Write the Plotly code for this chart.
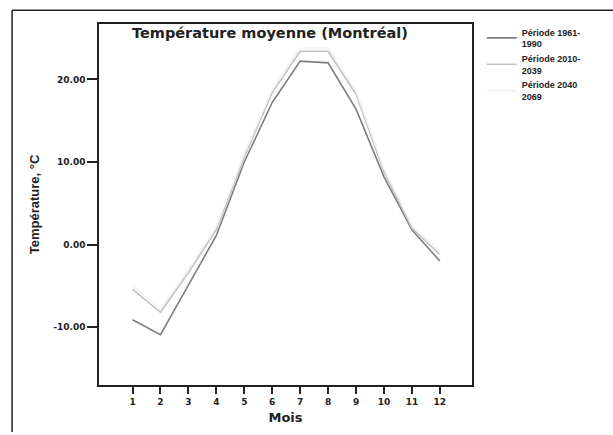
import plotly.graph_objects as go

# Mean monthly temperature, Montréal
mois = [1, 2, 3, 4, 5, 6, 7, 8, 9, 10, 11, 12]
periode_1961_1990 = [-9.1, -10.9, -4.9, 1.1, 10.0, 17.2, 22.2, 22.0, 16.4, 8.2, 1.8, -2.0]
periode_2010_2039 = [-5.4, -8.2, -3.4, 1.8, 10.6, 18.4, 23.4, 23.4, 18.2, 8.8, 2.0, -1.2]
periode_2040_2069 = [-5.0, -7.8, -3.0, 2.2, 11.0, 18.8, 23.8, 23.8, 18.6, 9.2, 2.4, -0.8]

series = [
    ("Période 1961-<br>1990", periode_1961_1990, "#7e7e7e"),
    ("Période 2010-<br>2039", periode_2010_2039, "#c2c2c2"),
    ("Période 2040<br>2069", periode_2040_2069, "#f3f3f3"),
]

y_ticks = [-10, 0, 10, 20]
y_tick_text = ["-10.00", "0.00", "10.00", "20.00"]

sans = "Liberation Sans, Arial, sans-serif"
wide = "DejaVu Sans, Verdana, sans-serif"

fig = go.Figure()
for name, values, color in series:
    fig.add_trace(go.Scatter(
        x=mois, y=values, mode="lines", name=name,
        line=dict(color=color, width=1.6),
    ))

fig.update_layout(
    width=613, height=435,
    margin=dict(l=99, r=141, t=24, b=47),
    paper_bgcolor="white", plot_bgcolor="white",
    font=dict(family=sans, color="#222"),
    showlegend=True,
    legend=dict(
        x=1.026, y=1.012, xanchor="left", yanchor="top",
        font=dict(size=9, family=sans, color="#222", weight="bold"),
        bgcolor="rgba(0,0,0,0)", tracegroupgap=0,
    ),
    xaxis=dict(
        range=[-0.2, 13.15], tickmode="array", tickvals=mois,
        ticks="outside", ticklen=7, tickwidth=1.5, tickcolor="#222",
        showgrid=False, zeroline=False,
        showline=True, linecolor="#222", linewidth=1.5, mirror=True,
        tickfont=dict(size=9, family=wide, weight="bold"),
        title=dict(text="Mois", font=dict(size=13, family=wide, weight="bold"), standoff=7),
    ),
    yaxis=dict(
        range=[-17, 26.7], tickmode="array", tickvals=y_ticks, ticktext=y_tick_text,
        ticks="outside", ticklen=10, tickwidth=1.5, tickcolor="#222",
        showgrid=False, zeroline=False,
        showline=True, linecolor="#222", linewidth=1.5, mirror=True,
        tickfont=dict(size=9, family=wide, weight="bold"),
        title=dict(text="Température, °C", font=dict(size=13, family=sans, weight="bold"), standoff=11),
    ),
    annotations=[dict(
        text="Température moyenne (Montréal)", xref="paper", yref="paper",
        x=0.458, y=1.003, xanchor="center", yanchor="top", showarrow=False,
        font=dict(size=14.5, family=wide, weight="bold", color="#222"),
    )],
    shapes=[
        dict(type="line", xref="paper", yref="paper", x0=-0.233, x1=1.38,
             y0=1.038, y1=1.038, line=dict(color="#222", width=1.5)),
        dict(type="line", xref="paper", yref="paper", x0=-0.233, x1=-0.233,
             y0=1.038, y1=-0.13, line=dict(color="#222", width=1.5)),
    ],
)

fig.write_html("out.html")
